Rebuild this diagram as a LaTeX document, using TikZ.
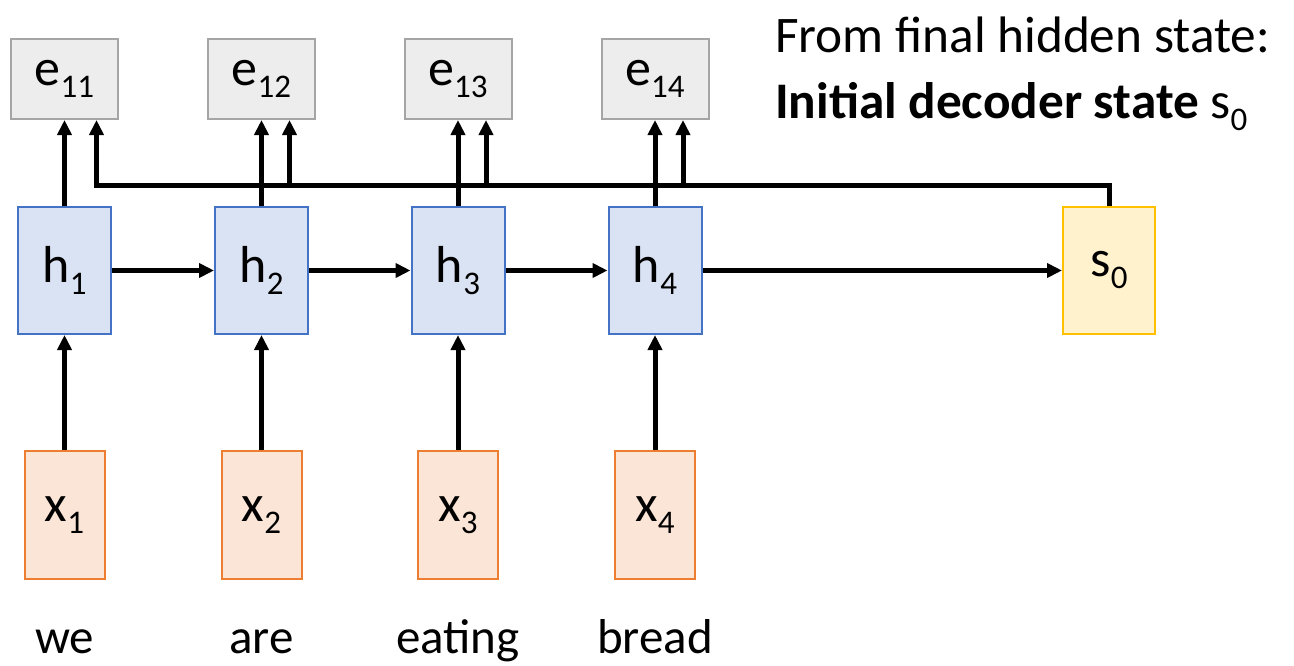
\documentclass[tikz,border=0pt]{standalone}
\usepackage{fontspec}
\setmainfont{Carlito}
\usetikzlibrary{arrows.meta,calc}

\definecolor{eFill}{RGB}{237,237,237}
\definecolor{eLine}{RGB}{165,165,165}
\definecolor{hFill}{RGB}{218,227,243}
\definecolor{hLine}{RGB}{68,114,196}
\definecolor{xFill}{RGB}{251,229,214}
\definecolor{xLine}{RGB}{237,125,49}
\definecolor{sFill}{RGB}{255,242,204}
\definecolor{sLine}{RGB}{255,192,0}

% symbol with a lowered subscript
\newcommand\sym[2]{#1\raisebox{-12pt}{\fontsize{33}{36}\selectfont #2}}

\begin{document}
\begin{tikzpicture}[x=1pt,y=-1pt,
  box/.style={draw,line width=2pt,inner sep=0pt,font=\fontsize{52}{56}\selectfont},
  ebox/.style={box,draw=eLine,fill=eFill,minimum width=107pt,minimum height=80pt},
  hbox/.style={box,draw=hLine,fill=hFill,minimum width=93pt,minimum height=127pt},
  xbox/.style={box,draw=xLine,fill=xFill,minimum width=80pt,minimum height=128pt},
  sbox/.style={box,draw=sLine,fill=sFill,minimum width=92pt,minimum height=127pt},
  word/.style={anchor=base,inner sep=0pt,font=\fontsize{49}{54}\selectfont},
  captext/.style={anchor=base west,inner sep=0pt,font=\fontsize{51.3}{56}\selectfont},
  arr/.style={line width=5pt,-{Triangle[length=15pt,width=14pt]}}]
\useasboundingbox (0,0) rectangle (1294,665);

% encoder columns
\foreach \i/\xc/\w in {1/64.5/we,2/261.5/are,3/458/eating,4/655/bread}{
  \node[ebox] (e\i) at (\xc,79) {\sym{e}{1\i}};
  \node[hbox] (h\i) at (\xc,270.5) {\sym{h}{\i}};
  \node[xbox] (x\i) at (\xc,515) {\sym{x}{\i}};
  \node[word] (w\i) at (\xc,653) {\w};
}
\node[sbox] (s0) at (1109,270.5) {\sym{s}{0}};

% caption
\node[captext] (cap1) at (775,52) {From final hidden state:};
\node[captext] (cap2) at (775,118) {\textbf{Initial decoder state} \sym{s}{0}};

% inputs and recurrence
\foreach \i in {1,...,4}{
  \draw[arr] (x\i.north) -- (h\i.south);
  \draw[arr] (h\i.north) -- (e\i.south);
}
\draw[arr] (h1.east) -- (h2.west);
\draw[arr] (h2.east) -- (h3.west);
\draw[arr] (h3.east) -- (h4.west);
\draw[arr] (h4.east) -- (s0.west);

% decoder state fed to every score
\coordinate (bus) at (0,185);
\coordinate (t1) at ($(e1.south)+(32,0)$);
\coordinate (t2) at ($(e2.south)+(28,0)$);
\coordinate (t3) at ($(e3.south)+(28,0)$);
\coordinate (t4) at ($(e4.south)+(28,0)$);
\draw[arr] (s0.north) |- (bus -| t1) -- (t1);
\foreach \i in {2,3,4}{
  \draw[arr] (bus -| t\i) -- (t\i);
}
\end{tikzpicture}
\end{document}
